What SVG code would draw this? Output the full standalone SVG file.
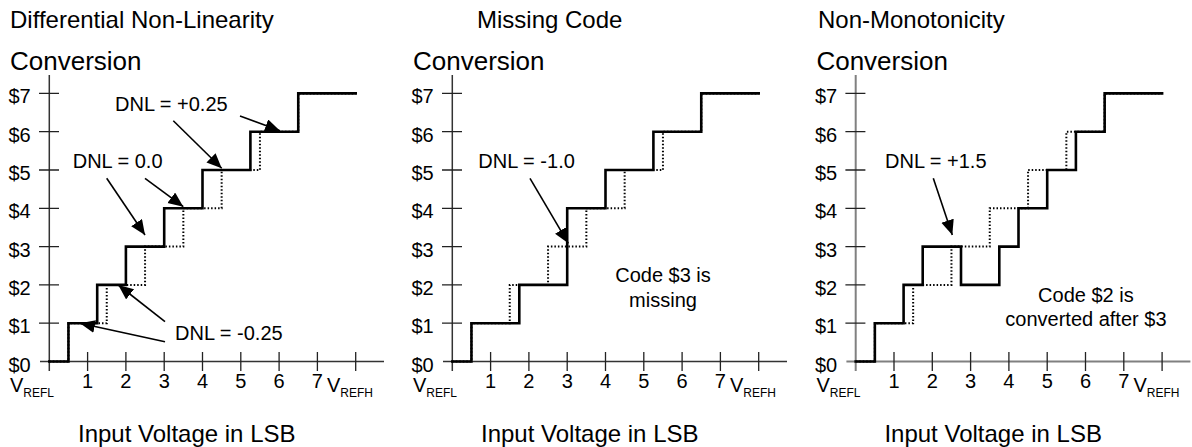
<svg xmlns="http://www.w3.org/2000/svg" width="1192" height="447" viewBox="0 0 1192 447">
<style>
text{font-family:"Liberation Sans",Arial,sans-serif;fill:#000}
.big{font-size:24px}
.conv{font-size:26px}
.lab{font-size:20px}
.sub{font-size:12px}
.ax{stroke:#333;stroke-width:1.5;fill:none}
.ax3{stroke:#808080;stroke-width:2;fill:none}
.tk{stroke:#222;stroke-width:1.3;fill:none}
.solid{stroke:#000;stroke-width:2.6;fill:none;stroke-linejoin:miter;stroke-linecap:square}
.dot{stroke:#000;stroke-width:2;fill:none;stroke-dasharray:1.5 2}
.arr{stroke:#000;stroke-width:1.6;fill:none;marker-end:url(#ah)}
</style>
<defs>
<marker id="ah" markerUnits="userSpaceOnUse" markerWidth="16" markerHeight="14" refX="15" refY="6.5" orient="auto">
<path d="M0,0 L15,6.5 L0,13 z" fill="#000"/>
</marker>
<g id="yticks">
<path class="tk" d="M39,93.4 H59 M39,131.7 H59 M39,170 H59 M39,208.3 H59 M39,246.6 H59 M39,284.9 H59 M39,323.2 H59"/>
<path class="tk" d="M87.6,352 V371 M125.9,352 V371 M164.2,352 V371 M202.5,352 V371 M240.8,352 V371 M279.1,352 V371 M317.4,352 V371 M355.7,352 V371"/>
</g>
<g id="ylabels">
<text class="lab" x="8.5" y="103.4">$7</text>
<text class="lab" x="8.5" y="141.7">$6</text>
<text class="lab" x="8.5" y="180">$5</text>
<text class="lab" x="8.5" y="218.3">$4</text>
<text class="lab" x="8.5" y="256.6">$3</text>
<text class="lab" x="8.5" y="294.9">$2</text>
<text class="lab" x="8.5" y="333.2">$1</text>
<text class="lab" x="8.5" y="371.5">$0</text>
<text class="lab" x="87.6" y="388" text-anchor="middle">1</text>
<text class="lab" x="125.9" y="388" text-anchor="middle">2</text>
<text class="lab" x="164.2" y="388" text-anchor="middle">3</text>
<text class="lab" x="202.5" y="388" text-anchor="middle">4</text>
<text class="lab" x="240.8" y="388" text-anchor="middle">5</text>
<text class="lab" x="279.1" y="388" text-anchor="middle">6</text>
<text class="lab" x="317.4" y="388" text-anchor="middle">7</text>
<text class="lab" x="10" y="392">V<tspan class="sub" dy="5">REFL</tspan></text>
<text class="lab" x="327" y="392">V<tspan class="sub" dy="5">REFH</tspan></text>
<text class="conv" x="10" y="70">Conversion</text>
<text class="big" x="78" y="442">Input Voltage in LSB</text>
</g>
<path id="ideal" class="dot" d="M49.3,361.5 H68.45 V323.2 H106.75 V284.9 H145.05 V246.6 H183.35 V208.3 H221.65 V170 H259.95 V131.7 H298.25 V93.4 H355.7"/>
</defs>

<g id="panel-dnl">
<text class="big" x="10" y="28">Differential Non-Linearity</text>
<path class="ax" d="M49.3,75 V371 M40,361.5 H384"/>
<use href="#yticks"/>
<use href="#ylabels"/>
<path class="solid" d="M49.3,361.5 H68.45 V323.2 H97.2 V284.9 H125.9 V246.6 H164.2 V208.3 H202.5 V170 H250.4 V131.7 H298.25 V93.4 H355.7"/>
<use href="#ideal"/>
<text class="lab" x="115" y="111">DNL = +0.25</text>
<text class="lab" x="72.7" y="168">DNL = 0.0</text>
<text class="lab" x="175" y="340">DNL = -0.25</text>
</g>

<g id="panel-missing" transform="translate(403,0)">
<text class="big" x="74" y="28">Missing Code</text>
<path class="ax" d="M49.3,75 V371 M40,361.5 H384"/>
<use href="#yticks"/>
<use href="#ylabels"/>
<path class="solid" d="M49.3,361.5 H68.45 V323.2 H116.3 V284.9 H164.2 V208.3 H202.5 V170 H250.4 V131.7 H298.25 V93.4 H355.7"/>
<use href="#ideal"/>
<text class="lab" x="75.3" y="168">DNL = -1.0</text>
<text class="lab" x="260" y="281.7" text-anchor="middle">Code $3 is</text>
<text class="lab" x="260" y="306.7" text-anchor="middle">missing</text>
</g>

<g id="panel-nonmono" transform="translate(806.4,0)">
<text class="big" x="11.6" y="28">Non-Monotonicity</text>
<path class="ax3" d="M49.3,75 V371 M40,361.5 H384"/>
<use href="#yticks"/>
<use href="#ylabels"/>
<path class="solid" d="M49.3,361.5 H68.45 V323.2 H97.2 V284.9 H116.3 V246.6 H154.6 V284.9 H192.9 V246.6 H212.1 V208.3 H240.8 V170 H269.5 V131.7 H298.25 V93.4 H355.7"/>
<use href="#ideal"/>
<text class="lab" x="78.6" y="168">DNL = +1.5</text>
<text class="lab" x="279.5" y="301.7" text-anchor="middle">Code $2 is</text>
<text class="lab" x="279.5" y="326" text-anchor="middle">converted after $3</text>
</g>

<g id="connectors">
<line class="arr" x1="240" y1="116" x2="280" y2="130.7"/>
<line class="arr" x1="173.3" y1="120.7" x2="221.7" y2="168.3"/>
<line class="arr" x1="145" y1="178.3" x2="183.3" y2="206.7"/>
<line class="arr" x1="106.7" y1="178.3" x2="145" y2="235"/>
<line class="arr" x1="165" y1="321.7" x2="118.3" y2="285"/>
<line class="arr" x1="165" y1="341.7" x2="80" y2="323.3"/>
<line class="arr" x1="530" y1="178.3" x2="568.3" y2="243.3"/>
<line class="arr" x1="933.3" y1="178.3" x2="952.3" y2="235"/>
</g>
</svg>
